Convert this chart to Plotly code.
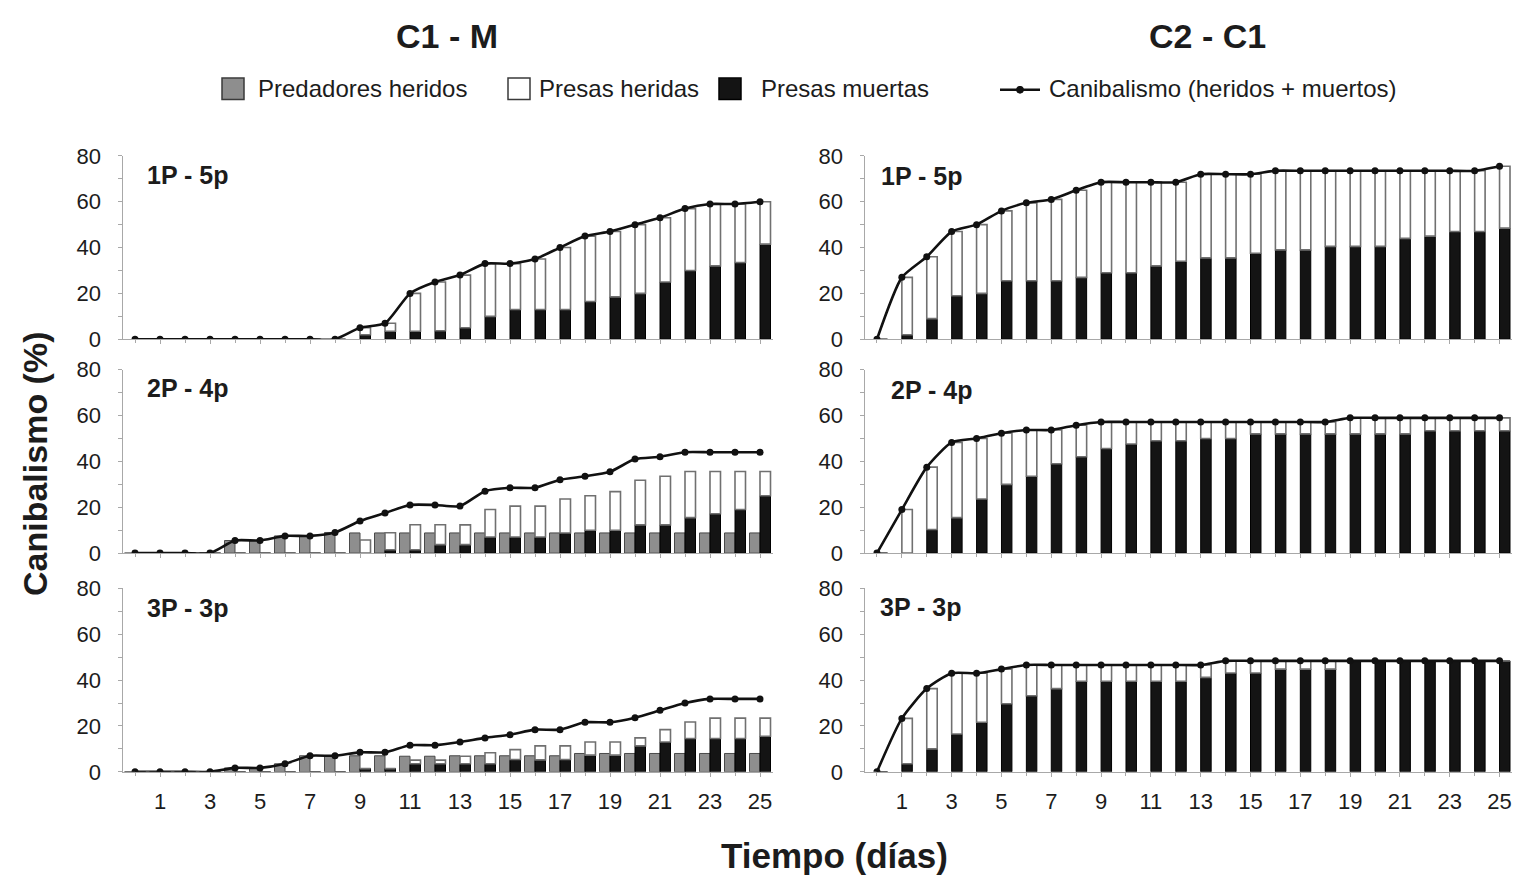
import plotly.graph_objects as go

# ---------------- data (cumulative %, days 0..25) ----------------
dias = list(range(0, 26))
ticks_x = list(range(1, 26, 2))

# C1 - M, 1P - 5p
c1m_1p_pred = [0] * 26
c1m_1p_her = [0, 0, 0, 0, 0, 0, 0, 0, 0, 3, 3.5, 16.5, 21.3, 23, 23, 20, 22, 27, 28.5, 28.5, 30, 28, 27, 27, 25.5, 18.5]
c1m_1p_mue = [0, 0, 0, 0, 0, 0, 0, 0, 0, 2, 3.5, 3.5, 3.7, 5, 10, 13, 13, 13, 16.5, 18.5, 20, 25, 30, 32, 33.5, 41.5]
c1m_1p_can = [0, 0, 0, 0, 0, 0, 0, 0, 0, 5, 7, 20, 25, 28, 33, 33, 35, 40, 45, 47, 50, 53, 57, 59, 59, 60]

# C1 - M, 2P - 4p
c1m_2p_pred = [0, 0, 0, 0, 5.5, 5.5, 7.5, 7.5, 9, 8.8, 8.8, 8.8, 8.8, 8.8, 8.8, 8.8, 8.8, 8.8, 8.8, 8.8, 8.8, 8.8, 8.8, 8.8, 8.8, 8.8]
c1m_2p_her = [0, 0, 0, 0, 0, 0, 0, 0, 0, 5.7, 7.4, 10.9, 8.7, 8.6, 12, 13.5, 13.5, 14.8, 15, 16.8, 19.5, 21.2, 20.1, 18.4, 16.6, 10.6]
c1m_2p_mue = [0, 0, 0, 0, 0, 0, 0, 0, 0, 0, 1.5, 1.5, 3.7, 3.7, 7, 7, 7, 8.8, 10, 10, 12.3, 12.3, 15.5, 17.2, 19, 25]
c1m_2p_can = [0, 0, 0, 0, 5.5, 5.5, 7.5, 7.5, 9, 14, 17.5, 21, 21, 20.5, 27, 28.5, 28.5, 32, 33.5, 35.5, 41, 42, 44, 44, 44, 44]

# C1 - M, 3P - 3p
c1m_3p_pred = [0, 0, 0, 0, 1.7, 1.7, 3.5, 7, 7, 7, 7, 6.8, 6.8, 7, 7, 7, 7, 7, 8, 8, 8, 8, 8, 8, 8, 8]
c1m_3p_her = [0, 0, 0, 0, 0, 0, 0, 0, 0, 0, 0, 1.6, 1.6, 3.3, 4.8, 4.3, 6.1, 5.9, 5.7, 5.7, 3.5, 5.4, 7.2, 8.9, 8.9, 7.9]
c1m_3p_mue = [0, 0, 0, 0, 0, 0, 0, 0, 0, 1.4, 1.4, 3.5, 3.5, 3.5, 3.5, 5.4, 5.2, 5.4, 7.3, 7.3, 11.3, 13, 14.5, 14.5, 14.5, 15.5]
c1m_3p_can = [0, 0, 0, 0, 1.7, 1.7, 3.5, 7, 7, 8.5, 8.5, 11.6, 11.6, 13, 14.8, 16.2, 18.4, 18.4, 21.6, 21.6, 23.6, 26.8, 30, 31.8, 31.8, 31.8]

# C2 - C1, 1P - 5p
c2c1_1p_pred = [0] * 26
c2c1_1p_her = [0, 25, 27, 28, 30, 30.5, 34, 35.5, 38, 39.5, 39.5, 36.5, 34.5, 36.5, 36.5, 34.5, 34.5, 34.5, 33, 33, 33, 29.5, 28.5, 26.5, 26.5, 27]
c2c1_1p_mue = [0, 2, 9, 19, 20, 25.5, 25.5, 25.5, 27, 29, 29, 32, 34, 35.5, 35.5, 37.5, 39, 39, 40.5, 40.5, 40.5, 44, 45, 47, 47, 48.5]
c2c1_1p_can = [0, 27, 36, 47, 50, 56, 59.5, 61, 65, 68.5, 68.5, 68.5, 68.5, 72, 72, 72, 73.5, 73.5, 73.5, 73.5, 73.5, 73.5, 73.5, 73.5, 73.5, 75.5]

# C2 - C1, 2P - 4p
c2c1_2p_pred = [0] * 26
c2c1_2p_her = [0, 19, 27.2, 32.8, 26.4, 22.3, 20.2, 14.7, 13.8, 11.6, 9.6, 8.2, 8.2, 7.2, 7.2, 5.2, 5.2, 5.2, 5.2, 7, 7, 7, 5.6, 5.6, 5.6, 5.6]
c2c1_2p_mue = [0, 0, 10.3, 15.5, 23.6, 30, 33.5, 39, 42, 45.6, 47.6, 49, 49, 50, 50, 52, 52, 52, 52, 52, 52, 52, 53.4, 53.4, 53.4, 53.4]
c2c1_2p_can = [0, 19, 37.5, 48.3, 50, 52.3, 53.7, 53.7, 55.8, 57.2, 57.2, 57.2, 57.2, 57.2, 57.2, 57.2, 57.2, 57.2, 57.2, 59, 59, 59, 59, 59, 59, 59]

# C2 - C1, 3P - 3p
c2c1_3p_pred = [0] * 26
c2c1_3p_her = [0, 19.8, 26.3, 26.5, 21.4, 15.1, 13.4, 10.3, 7.1, 7.1, 7.1, 7.1, 7.1, 5.4, 5.3, 5.3, 3.6, 3.6, 3.6, 0, 0, 0, 0, 0, 0, 0]
c2c1_3p_mue = [0, 3.5, 10, 16.5, 21.6, 29.7, 33.2, 36.3, 39.5, 39.5, 39.5, 39.5, 39.5, 41.2, 43.1, 43.1, 44.8, 44.8, 44.8, 48.4, 48.4, 48.4, 48.4, 48.4, 48.4, 48.4]
c2c1_3p_can = [0, 23.3, 36.3, 43, 43, 44.8, 46.6, 46.6, 46.6, 46.6, 46.6, 46.6, 46.6, 46.6, 48.4, 48.4, 48.4, 48.4, 48.4, 48.4, 48.4, 48.4, 48.4, 48.4, 48.4, 48.4]

etiquetas_panel = ["1P - 5p", "2P - 4p", "3P - 3p"]
titulos_col = ["C1 - M", "C2 - C1"]
leyenda = ["Predadores heridos", "Presas heridas", "Presas muertas", "Canibalismo (heridos + muertos)"]

paneles = [
    [(c1m_1p_pred, c1m_1p_her, c1m_1p_mue, c1m_1p_can),
     (c1m_2p_pred, c1m_2p_her, c1m_2p_mue, c1m_2p_can),
     (c1m_3p_pred, c1m_3p_her, c1m_3p_mue, c1m_3p_can)],
    [(c2c1_1p_pred, c2c1_1p_her, c2c1_1p_mue, c2c1_1p_can),
     (c2c1_2p_pred, c2c1_2p_her, c2c1_2p_mue, c2c1_2p_can),
     (c2c1_3p_pred, c2c1_3p_her, c2c1_3p_mue, c2c1_3p_can)],
]

# ---------------- geometry (pixels -> paper) ----------------
W, H = 1520, 893
def px(x):
    return x / W
def py(y):
    return 1 - y / H

col_px = [(122.5, 772.5), (864.5, 1512.0)]
row_px = [(148.0, 336.7), (368.0, 556.7), (593.0, 781.7)]

FONT = "Liberation Sans, Arial, sans-serif"
TXT = "#1c1c1c"
AXC = "#a8a8a8"
BW = 0.42

fig = go.Figure()
layout_axes = {}

for c in range(2):
    for r in range(3):
        k = c * 3 + r + 1
        xa = "x" if k == 1 else f"x{k}"
        ya = "y" if k == 1 else f"y{k}"
        pred, her, mue, can = paneles[c][r]

        if any(v > 0 for v in pred):
            fig.add_trace(go.Bar(
                x=dias, y=pred, base=0, offset=-BW, width=BW,
                marker=dict(color="#8e8e8e", line=dict(color="#4a4a4a", width=1)),
                xaxis=xa, yaxis=ya, showlegend=False, hoverinfo="skip"))
        fig.add_trace(go.Bar(
            x=dias, y=mue, base=0, offset=0, width=BW,
            marker=dict(color="#141414", line=dict(color="#000000", width=1)),
            xaxis=xa, yaxis=ya, showlegend=False, hoverinfo="skip"))
        fig.add_trace(go.Bar(
            x=dias, y=her, base=mue, offset=0, width=BW,
            marker=dict(color="#ffffff", line=dict(color="#707070", width=1.6)),
            xaxis=xa, yaxis=ya, showlegend=False, hoverinfo="skip"))
        fig.add_trace(go.Scatter(
            x=dias, y=can, mode="lines+markers",
            line=dict(color="#111111", width=2.6, shape="spline", smoothing=0.6),
            marker=dict(size=7, color="#111111"),
            xaxis=xa, yaxis=ya, showlegend=False, hoverinfo="skip"))

        x0, x1 = col_px[c]
        yt, yb = row_px[r]
        xkey = "xaxis" if k == 1 else f"xaxis{k}"
        ykey = "yaxis" if k == 1 else f"yaxis{k}"
        layout_axes[xkey] = dict(
            domain=[px(x0), px(x1)], anchor=ya, range=[-0.5, 25.5],
            tickvals=ticks_x, showticklabels=(r == 2),
            showline=True, linecolor=AXC, linewidth=1,
            ticks="outside", ticklen=4, tickcolor=AXC,
            minor=dict(dtick=1, tick0=0, ticks="outside", ticklen=3, tickcolor=AXC),
            showgrid=False, zeroline=False, fixedrange=True,
            tickfont=dict(family=FONT, size=22, color=TXT),
            ticklabelstandoff=6,
        )
        layout_axes[ykey] = dict(
            domain=[py(yb), py(yt)], anchor=xa, range=[0, 80],
            tickvals=[0, 20, 40, 60, 80],
            showline=True, linecolor=AXC, linewidth=1,
            ticks="outside", ticklen=4, tickcolor=AXC,
            minor=dict(dtick=10, ticks="outside", ticklen=4, tickcolor=AXC),
            showgrid=False, zeroline=False, fixedrange=True,
            tickfont=dict(family=FONT, size=22, color=TXT),
            ticklabelstandoff=12,
        )

annotations = []
shapes = []

# column titles
for (cx, t) in zip([447, 1207], titulos_col):
    annotations.append(dict(x=px(cx), y=py(25), xref="paper", yref="paper",
                            text=f"<b>{t}</b>", showarrow=False,
                            font=dict(family=FONT, size=34, color=TXT),
                            xanchor="center", yanchor="middle"))

# panel labels
lab_pos = [[(145, 168), (145, 387), (145, 613)],
           [(879, 169), (889, 389), (878, 612)]]
for c in range(2):
    for r in range(3):
        lx, ly = lab_pos[c][r]
        annotations.append(dict(x=px(lx), y=py(ly), xref="paper", yref="paper",
                                text=f"<b>{etiquetas_panel[r]}</b>", showarrow=False,
                                font=dict(family=FONT, size=25, color=TXT),
                                xanchor="left", yanchor="middle"))

# axis titles
annotations.append(dict(x=px(35), y=py(465), xref="paper", yref="paper",
                        text="<b>Canibalismo (%)</b>", showarrow=False, textangle=-90,
                        font=dict(family=FONT, size=34, color=TXT),
                        xanchor="center", yanchor="middle"))
annotations.append(dict(x=px(835), y=py(868), xref="paper", yref="paper",
                        text="<b>Tiempo (días)</b>", showarrow=False,
                        font=dict(family=FONT, size=35, color=TXT),
                        xanchor="center", yanchor="middle"))

# legend row
LY = 79
sw = [(222, "#8e8e8e", "#3a3a3a"), (508, "#ffffff", "#3a3a3a"), (719, "#141414", "#000000")]
for (sx, fill, edge) in sw:
    shapes.append(dict(type="rect", xref="paper", yref="paper",
                       x0=px(sx), x1=px(sx + 22), y0=py(LY + 11), y1=py(LY - 11),
                       fillcolor=fill, line=dict(color=edge, width=1.5)))
shapes.append(dict(type="line", xref="paper", yref="paper",
                   x0=px(1000), x1=px(1040), y0=py(LY + 1), y1=py(LY + 1),
                   line=dict(color="#111111", width=2.5)))
shapes.append(dict(type="circle", xref="paper", yref="paper",
                   x0=px(1016.5), x1=px(1023.5), y0=py(LY + 4.5), y1=py(LY - 2.5),
                   fillcolor="#111111", line=dict(color="#111111", width=1)))
for (tx, t) in zip([256, 537, 759, 1047], leyenda):
    annotations.append(dict(x=px(tx), y=py(LY), xref="paper", yref="paper",
                            text=t, showarrow=False,
                            font=dict(family=FONT, size=24, color=TXT),
                            xanchor="left", yanchor="middle"))

fig.update_layout(
    width=W, height=H, margin=dict(l=0, r=0, t=0, b=0),
    paper_bgcolor="white", plot_bgcolor="white",
    barmode="overlay", showlegend=False,
    annotations=annotations, shapes=shapes,
    **layout_axes,
)

fig.write_html("out.html", config={"displayModeBar": False})
